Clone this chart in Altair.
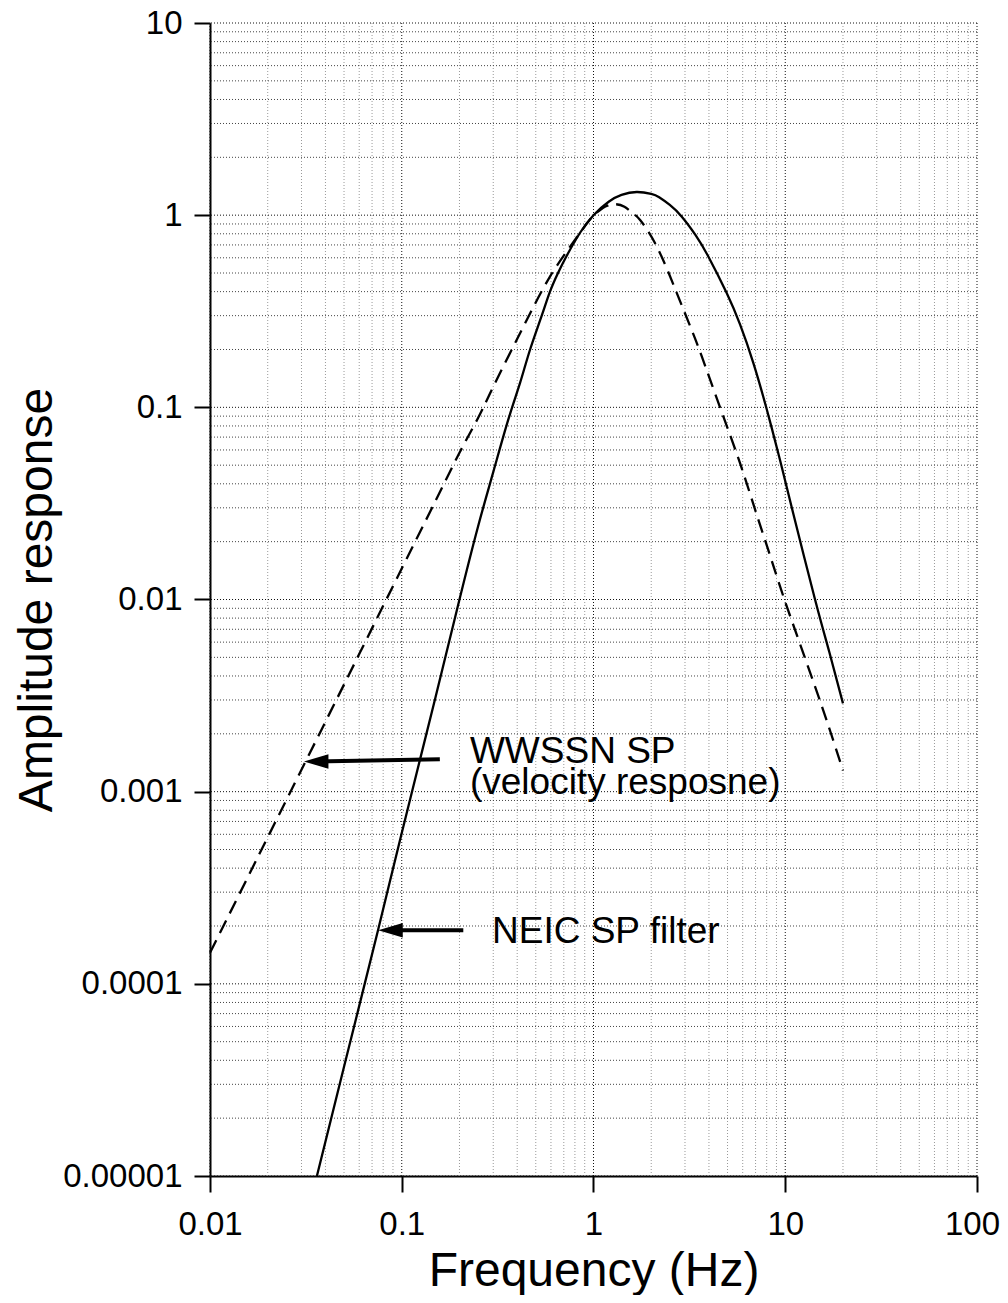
import altair as alt
import pandas as pd

# NEIC SP filter (solid)
neic_freq = [0.0361, 0.05, 0.0752, 0.1, 0.15, 0.2, 0.25, 0.3, 0.359, 0.414, 0.467, 0.537,
             0.593, 0.653, 0.725, 0.851, 1.0, 1.2, 1.4, 1.68, 2.0, 2.2, 2.5, 2.88, 3.4,
             3.97, 4.95, 5.81, 6.82, 8.0, 9.39, 11.0, 14.3, 17.0, 20.0]
neic_amp = [1e-5, 3.7e-5, 1.9e-4, 6.1e-4, 3.1e-3, 0.01, 0.024, 0.046, 0.086, 0.134, 0.2, 0.3,
            0.4, 0.5, 0.615, 0.81, 1.0, 1.175, 1.275, 1.32, 1.29, 1.24, 1.13, 0.985, 0.79,
            0.61, 0.393, 0.27, 0.17, 0.098, 0.0532, 0.0281, 0.01, 5.3e-3, 2.88e-3]

# WWSSN SP velocity response (dashed)
wwssn_freq = [0.01, 0.0309, 0.06, 0.1, 0.15, 0.2, 0.25, 0.2885, 0.3455, 0.414, 0.495, 0.593, 0.724,
              0.94, 1.05, 1.17, 1.3, 1.45, 1.61, 1.75, 2.14, 2.72, 3.25, 3.67, 4.57, 5.81, 6.95,
              8.2, 9.77, 11.9, 14.9, 17.2, 20.0]
wwssn_amp = [1.45e-4, 1.38e-3, 5.2e-3, 0.0145, 0.0326, 0.058, 0.088, 0.118, 0.17, 0.243, 0.345, 0.479,
             0.646, 0.925, 1.04, 1.115, 1.14, 1.105, 1.02, 0.944, 0.686, 0.393, 0.253, 0.184, 0.1,
             0.0512, 0.0295, 0.0178, 0.0104, 5.93e-3, 3.13e-3, 2.05e-3, 1.29e-3]

x_ticks = [0.01, 0.1, 1, 10, 100]
x_labels = ["0.01", "0.1", "1", "10", "100"]
y_ticks = [0.00001, 0.0001, 0.001, 0.01, 0.1, 1, 10]
y_labels = ["0.00001", "0.0001", "0.001", "0.01", "0.1", "1", "10"]
minor_mult = [2, 3, 4, 5, 6, 7, 8, 9]

x_minor = [m * d for d in x_ticks[:-1] for m in minor_mult]
y_minor = [m * d for d in y_ticks[:-1] for m in minor_mult]

# annotations (data coordinates)
ann_text = ["WWSSN SP", "(velocity resposne)", "NEIC SP filter"]
ann_f = [0.2268, 0.2268, 0.2956]
ann_a = [1.41e-3, 9.68e-4, 1.63e-4]

arrow_tail_f = [0.158, 0.2094]
arrow_tail_a = [1.476e-3, 1.90e-4]
arrow_shaft_end_f = [0.0355, 0.0862]
arrow_tip_f = [0.0309, 0.0754]
arrow_tip_a = [1.435e-3, 1.90e-4]

FONT = "Liberation Sans"


def label_expr(vals, labs):
    return ("[" + ",".join("'%s'" % l for l in labs) + "][indexof(["
            + ",".join(repr(float(v)) for v in vals) + "], datum.value)]")


xs = alt.Scale(type="log", domain=[0.01, 100], nice=False)
ys = alt.Scale(type="log", domain=[0.00001, 10], nice=False)

x_axis = alt.Axis(values=x_ticks, labelExpr=label_expr(x_ticks, x_labels), grid=False,
                  tickSize=16, tickWidth=2, tickColor="black", domainColor="black", domainWidth=2,
                  labelFont=FONT, labelFontSize=33, labelColor="black", labelPadding=16,
                  labelFlush=False, labelOverlap=False,
                  labelOffset={"condition": {"test": "datum.value >= 100", "value": -5}, "value": 0},
                  title="Frequency (Hz)", titleFont=FONT, titleFontSize=48, titleFontWeight="normal",
                  titleColor="black", titleBaseline="alphabetic", titleY=109)
y_axis = alt.Axis(values=y_ticks, labelExpr=label_expr(y_ticks, y_labels), grid=False,
                  tickSize=16, tickWidth=2, tickColor="black", domainColor="black", domainWidth=2,
                  labelFont=FONT, labelFontSize=33, labelColor="black", labelPadding=12,
                  labelFlush=False, labelOverlap=False,
                  title="Amplitude response", titleFont=FONT, titleFontSize=48, titleFontWeight="normal",
                  titleColor="black", titleBaseline="alphabetic", titleX=-159, titleAngle=-90)


def X(field="f"):
    return alt.X(field + ":Q", scale=xs, axis=x_axis)


def Y(field="a"):
    return alt.Y(field + ":Q", scale=ys, axis=y_axis)


vx_minor = alt.Chart(pd.DataFrame({"f": x_minor})).mark_rule(
    color="#999999", strokeDash=[1, 2], strokeWidth=1).encode(x=X())
vx_major = alt.Chart(pd.DataFrame({"f": x_ticks})).mark_rule(
    color="#111111", strokeDash=[1, 2], strokeWidth=1).encode(x=X())
hy_minor = alt.Chart(pd.DataFrame({"a": y_minor})).mark_rule(
    color="#444444", strokeDash=[1, 2], strokeWidth=1).encode(y=Y())
hy_major = alt.Chart(pd.DataFrame({"a": y_ticks})).mark_rule(
    color="#111111", strokeDash=[1, 2], strokeWidth=1).encode(y=Y())

neic = alt.Chart(pd.DataFrame({"f": neic_freq, "a": neic_amp})).mark_line(
    color="black", strokeWidth=2.3, interpolate="natural").encode(x=X(), y=Y(), order="f:Q")
wwssn = alt.Chart(pd.DataFrame({"f": wwssn_freq, "a": wwssn_amp})).mark_line(
    color="black", strokeWidth=2.3, strokeDash=[14, 8], interpolate="natural").encode(
    x=X(), y=Y(), order="f:Q")

shafts = alt.Chart(pd.DataFrame({"f": arrow_tail_f, "a": arrow_tail_a,
                                 "f2": arrow_shaft_end_f, "a2": arrow_tip_a})).mark_rule(
    color="black", strokeWidth=4).encode(x=X(), y=Y(), x2="f2:Q", y2="a2:Q")
heads = alt.Chart(pd.DataFrame({"f": arrow_tip_f, "a": arrow_tip_a})).mark_point(
    shape="M0,0L2,-0.6L2,0.6Z", size=600, filled=True, color="black", opacity=1,
    strokeWidth=0).encode(x=X(), y=Y())

labels = alt.Chart(pd.DataFrame({"f": ann_f, "a": ann_a, "t": ann_text})).mark_text(
    align="left", baseline="alphabetic", font=FONT, fontSize=37, color="black").encode(
    x=X(), y=Y(), text="t:N")

chart = alt.layer(vx_minor, vx_major, hy_minor, hy_major, wwssn, neic, shafts, heads, labels).properties(
    width=767, height=1153,
    padding={"left": 202, "top": 15, "right": 23, "bottom": 119},
    autosize=alt.AutoSizeParams(type="none"),
    background="white",
).configure_view(stroke=None)

chart.save("out.html", embed_options={"renderer": "svg", "actions": False})
